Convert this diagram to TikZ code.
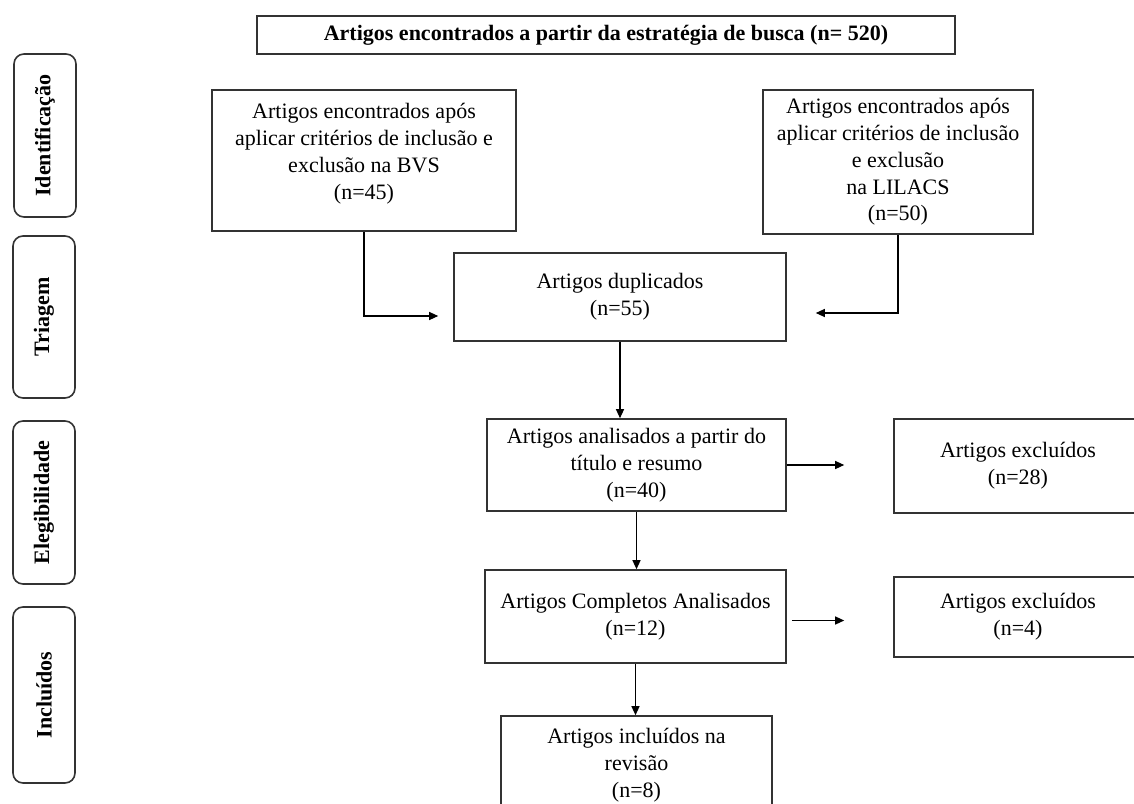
\documentclass[tikz,border=0pt]{standalone}
\usepackage{fontspec}
\setmainfont{Liberation Serif}
\usepackage{tikz}
\usetikzlibrary{arrows.meta}

\begin{document}
\begin{tikzpicture}[x=0.5pt, y=-0.5pt, >={Triangle[length=4.5pt, width=4pt]},
                    box/.style={rectangle, draw=black!80, line width=0.8pt, align=center,
                                inner sep=1pt, font=\fontsize{11}{13.4}\selectfont},
                    phase/.style={box, rounded corners=5pt, rotate=90, minimum height=31pt,
                                  font=\fontsize{11}{13.4}\selectfont\bfseries},
                    link/.style={->, line width=0.6pt}]

% Page frame
\useasboundingbox (0,0) rectangle (1134,803);
\clip (0,0) rectangle (1134,803);

% Phases on the left
\node[phase, minimum width=81.5pt] (ident) at (45,135.5) {Identificação};
\node[phase, minimum width=81pt] (triag) at (44,317) {Triagem};
\node[phase, minimum width=81.5pt] (eleg) at (44,502.5) {Elegibilidade};
\node[phase, minimum width=88pt] (incl) at (44,695) {Incluídos};

% Top row
\node[box, minimum width=349pt, minimum height=19pt, font=\fontsize{11}{13.4}\selectfont\bfseries] (busca) at (606,35) {Artigos encontrados a partir da estratégia de busca (n= 520)};

% Sources
\node[box, minimum width=152pt, minimum height=70.5pt] (bvs) at (364,160.5) {Artigos encontrados após\\aplicar critérios de inclusão e\\exclusão na BVS\\(n=45)\rule[-9pt]{0pt}{9pt}};
\node[box, minimum width=135pt, minimum height=72pt] (lilacs) at (898,162) {Artigos encontrados após\\aplicar critérios de inclusão\\e exclusão\\na LILACS\\(n=50)};

% Screening
\node[box, minimum width=166pt, minimum height=44pt] (dup) at (620,297) {Artigos duplicados\\(n=55)};

% Eligibility
\node[box, minimum width=149.5pt, minimum height=46pt] (ana) at (636.5,465) {Artigos analisados a partir do\\título e resumo\\(n=40)};
\node[box, minimum width=124pt, minimum height=47pt] (exc1) at (1018,466) {Artigos excluídos\\(n=28)};

% Included
\node[box, minimum width=150.5pt, minimum height=46.5pt] (comp) at (635.5,616.5) {Artigos Completos Analisados\\(n=12)};
\node[box, minimum width=124pt, minimum height=40pt] (exc2) at (1018,617) {Artigos excluídos\\(n=4)};
\node[box, minimum width=135.5pt, minimum height=49pt] (final) at (636.5,765) {Artigos incluídos na\\revisão\\(n=8)};

% Connections
\draw[link, shorten >=7.5pt] (bvs) |- ([yshift=-9.5pt]dup.west);
\draw[link, shorten >=14.5pt] (lilacs) |- ([yshift=-8pt]dup.east);
\draw[link] (dup) -- (dup |- ana.north);
\draw[link] (ana) -- (ana |- comp.north);
\draw[link] (comp) -- (comp |- final.north);
\draw[link, shorten >=24.5pt] (ana.east) -- (ana.east -| exc1.west);
\draw[link, shorten <=2.5pt, shorten >=24.5pt] ([yshift=-2pt]comp.east) -- ([yshift=-2pt]comp.east -| exc2.west);

\end{tikzpicture}
\end{document}
